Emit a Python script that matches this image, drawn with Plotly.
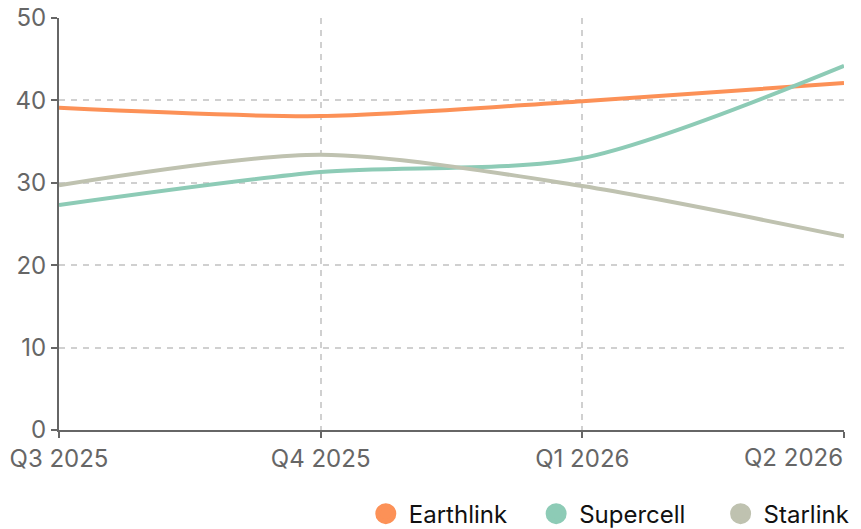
import plotly.graph_objects as go

quarters = ["Q3 2025", "Q4 2025", "Q1 2026", "Q2 2026"]
earthlink = [39.1, 38.1, 39.9, 42.1]
supercell = [27.3, 31.3, 33.0, 44.2]
starlink = [29.7, 33.4, 29.6, 23.5]
y_ticks = [0, 10, 20, 30, 40, 50]

series = [
    ("Earthlink", earthlink, "#fc9157", "legend", 0.387),
    ("Supercell", supercell, "#8dcbb6", "legend2", 0.604),
    ("Starlink", starlink, "#bfc2b0", "legend3", 0.839),
]

fig = go.Figure()
for name, vals, color, lg, lx in series:
    fig.add_trace(go.Scatter(
        x=quarters, y=vals, mode="lines", name=name,
        line=dict(color=color, width=4, shape="spline", smoothing=0.8),
        showlegend=False, hoverinfo="x+y+name",
    ))
for name, vals, color, lg, lx in series:
    fig.add_trace(go.Scatter(
        x=[None], y=[None], mode="markers", name=name, legend=lg,
        marker=dict(color=color, size=24, symbol="circle",
                    line=dict(color=color, width=6)),
        showlegend=True,
    ))

legend_common = dict(orientation="h", xanchor="left", y=-0.204, yanchor="middle",
                     font=dict(size=24, color="#111111"), itemsizing="trace",
                     itemwidth=36,
                     bgcolor="rgba(0,0,0,0)", borderwidth=0)

layout_legends = {}
for name, vals, color, lg, lx in series:
    layout_legends[lg] = dict(legend_common, x=lx)

fig.update_layout(
    width=861, height=529,
    margin=dict(l=59, r=17, t=18, b=99, autoexpand=False),
    paper_bgcolor="white", plot_bgcolor="white",
    font=dict(family="Inter", size=24, color="#666666"),
    **layout_legends,
)
# last category label is right-aligned to the axis end, as in the reference
tick_text = quarters[:-1] + [""]
fig.add_annotation(
    x=quarters[-1], xref="x", y=0, yref="paper", text=quarters[-1],
    showarrow=False, xanchor="right", yanchor="top", yshift=-11, xshift=1,
    font=dict(size=24, color="#666666", family="Inter"),
)
fig.update_xaxes(
    type="category", range=[0, 3], automargin=False,
    tickvals=quarters, ticktext=tick_text,
    showline=True, linecolor="#666666", linewidth=2,
    ticks="outside", ticklen=6, tickcolor="#666666", tickwidth=2,
    showgrid=True, gridcolor="#d0d0d0", griddash="6px,6px", gridwidth=2,
    zeroline=False, tickfont=dict(size=24, color="#666666"),
    ticklabeloverflow="allow",
)
fig.update_yaxes(
    range=[0, 50], tickvals=y_ticks, automargin=False,
    showline=True, linecolor="#666666", linewidth=2,
    ticks="outside", ticklen=6, tickcolor="#666666", tickwidth=2,
    showgrid=True, gridcolor="#d0d0d0", griddash="6px,6px", gridwidth=2,
    zeroline=False, tickfont=dict(size=24, color="#666666"),
    ticklabeloverflow="allow",
)

fig.write_html("out.html", config={"displayModeBar": False},
               post_script="document.body.style.margin='0';")
